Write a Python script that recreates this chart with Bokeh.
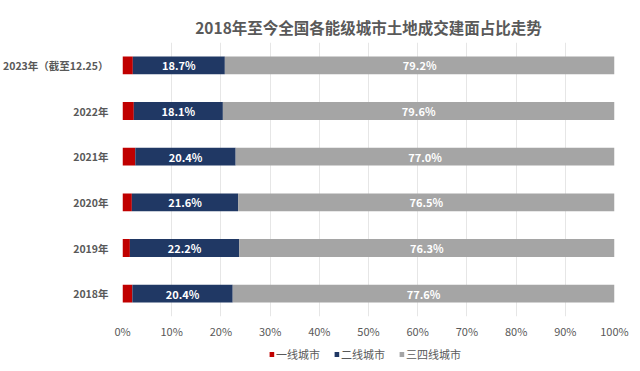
from bokeh.plotting import figure
from bokeh.layouts import column
from bokeh.models import ColumnDataSource, Legend, LegendItem, LabelSet, FactorRange, Spacer
from bokeh.embed import file_html
from bokeh.resources import INLINE
from bokeh.core.properties import value

years = ["2018年", "2019年", "2020年", "2021年", "2022年", "2023年（截至12.25）"]
tier1 = [2.0, 1.5, 1.9, 2.6, 2.3, 2.1]
tier2 = [20.4, 22.2, 21.6, 20.4, 18.1, 18.7]
tier34 = [77.6, 76.3, 76.5, 77.0, 79.6, 79.2]
series = ["一线城市", "二线城市", "三四线城市"]
colors = ["#C00000", "#203864", "#A5A5A5"]
xticks = [0, 10, 20, 30, 40, 50, 60, 70, 80, 90, 100]

FONT = "Noto Sans CJK SC"

t1 = [a / 100 for a in tier1]
t2 = [a / 100 for a in tier2]
t3 = [a / 100 for a in tier34]
src = ColumnDataSource(dict(
    y=years, t1=t1, t2=t2, t3=t3,
    c2=[a + b / 2 for a, b in zip(t1, t2)],
    c3=[a + b + c / 2 for a, b, c in zip(t1, t2, t3)],
    l2=[f"{v:.1f}%" for v in tier2],
    l3=[f"{v:.1f}%" for v in tier34],
))

p = figure(frame_width=492, frame_height=274,
           y_range=FactorRange(factors=years, range_padding=0),
           x_range=(0, 1), output_backend="svg", toolbar_location=None,
           min_border_left=115, min_border_right=17, min_border_top=20,
           min_border_bottom=10)
p.outline_line_color = None
p.background_fill_color = "white"

r = p.hbar_stack(["t1", "t2", "t3"], y="y", height=0.39, color=colors, source=src,
                 line_color=None)

for col, lab in [("c2", "l2"), ("c3", "l3")]:
    ls = LabelSet(x=col, y="y", text=lab, source=src, text_align="center",
                  text_baseline="middle", text_color="white", text_font_size="11px",
                  text_font_style="bold", text_font=value(FONT))
    p.add_layout(ls)

p.title.text = "2018年至今全国各能级城市土地成交建面占比走势"
p.title.align = "center"
p.title.text_font = FONT
p.title.text_font_size = "15.5px"
p.title.text_color = "#595959"
p.title.text_font_style = "bold"

p.xaxis.ticker = [v / 100 for v in xticks]
p.xaxis.major_label_overrides = {v / 100: f"{v}%" for v in xticks}
p.xaxis.axis_line_color = None
p.xaxis.major_tick_line_color = None
p.xaxis.minor_tick_line_color = None
p.xaxis.major_label_text_font = FONT
p.xaxis.major_label_text_font_size = "11px"
p.xaxis.major_label_text_color = "#595959"
p.xaxis.major_label_standoff = 0

p.yaxis.axis_line_color = None
p.yaxis.major_tick_line_color = None
p.yaxis.minor_tick_line_color = None
p.yaxis.major_label_text_font = FONT
p.yaxis.major_label_text_font_size = "10.5px"
p.yaxis.major_label_text_font_style = "bold"
p.yaxis.major_label_text_color = "#595959"
p.yaxis.major_label_standoff = 8

p.xgrid.grid_line_color = "#E6E6E6"
p.ygrid.grid_line_color = None

# legend strip below the chart (zero-height bars, only their legend swatches show)
p2 = figure(width=624, height=26, output_backend="svg", toolbar_location=None,
            min_border=0, x_range=(0, 1), y_range=FactorRange(factors=years),
            x_axis_type=None, y_axis_type=None)
p2.grid.visible = False
p2.outline_line_color = None
lr = p2.hbar_stack(["t1", "t2", "t3"], y="y", height=0, color=colors, source=src,
                   line_color=None)
legend = Legend(items=[LegendItem(label=s, renderers=[rr]) for s, rr in zip(series, lr)],
                orientation="horizontal", location="center",
                label_text_font=FONT, label_text_font_size="11px",
                label_text_color="#595959", glyph_width=6, glyph_height=6,
                label_standoff=2, spacing=13, padding=2, margin=0,
                border_line_color=None, background_fill_alpha=0)
p2.add_layout(legend, "center")

open("out.html", "w").write(file_html(column(Spacer(height=8), p, p2, spacing=0), INLINE))
